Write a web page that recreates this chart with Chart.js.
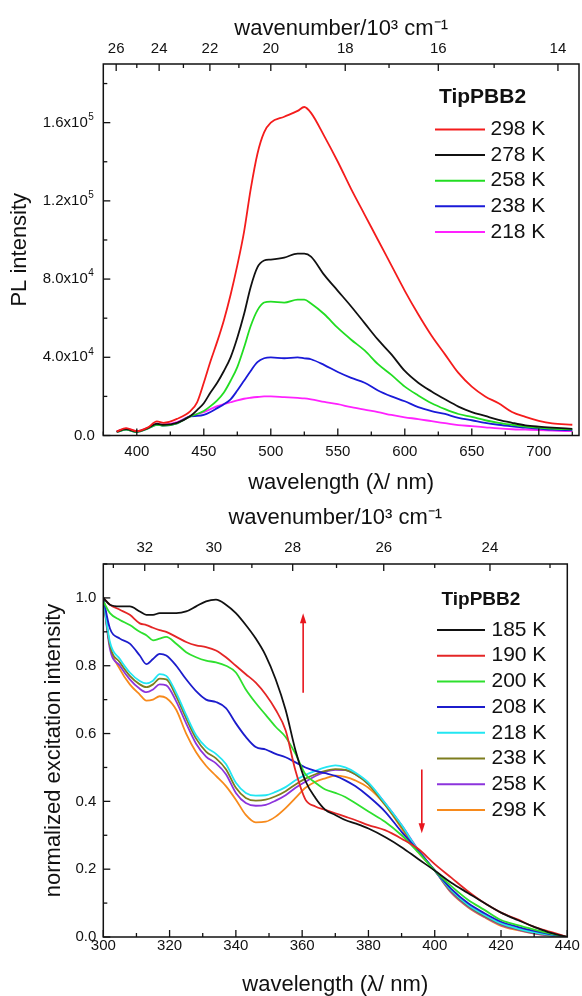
<!DOCTYPE html>
<html>
<head>
<meta charset="utf-8">
<script src="https://cdn.jsdelivr.net/npm/chart.js@4.4.0/dist/chart.umd.min.js"></script>
<style>
  html, body { margin: 0; padding: 0; background: #fff; }
  #wrap { position: relative; width: 582px; height: 996px; }
  #plChart { position: absolute; left: 0; top: 0; }
  #excChart { position: absolute; left: 0; top: 500px; }
</style>
</head>
<body>
<div id="wrap">
  <canvas id="plChart" width="582" height="500"></canvas>
  <canvas id="excChart" width="582" height="496"></canvas>
</div>
<script>
// ---- PL spectra (top) ----
const plWavelength = [385, 392, 400, 408, 415, 420, 430, 440, 445, 450, 455, 460, 465, 470, 475, 480, 485, 490, 495, 500,
  510, 520, 525, 530, 540, 550, 560, 570, 580, 590, 600, 610, 620, 630, 640, 650, 660, 670, 680, 690, 700, 710, 725];
const pl298K = [2000, 3800, 2200, 4000, 7200, 6500, 8500, 12500, 17000, 27000, 38000, 48000, 59000, 72000, 87000, 104000, 126000, 144000, 155000, 160000,
  163000, 166000, 168000, 165000, 153000, 140000, 126000, 113000, 100000, 87000, 74000, 62000, 51000, 41500, 32000, 25000, 20000, 16500, 12000, 9500, 7500, 6200, 5500];
const pl278K = [2000, 3300, 2000, 3800, 6000, 5500, 6500, 10000, 13000, 16500, 22000, 27000, 33000, 40000, 50000, 62000, 76000, 86000, 89500, 90000,
  91000, 93000, 93000, 91500, 82000, 74000, 66000, 57500, 49000, 41500, 33000, 27000, 22500, 18500, 14800, 12000, 10000, 8000, 6500, 5200, 4500, 4000, 3400];
const pl258K = [1800, 3000, 1800, 3500, 5500, 5000, 6200, 9800, 11000, 12500, 15000, 18000, 22000, 28000, 35000, 45000, 56000, 64000, 68000, 68500,
  68000, 69500, 69500, 67500, 62000, 55000, 49000, 43500, 36500, 31000, 25000, 20500, 16500, 13500, 11000, 9500, 7800, 6500, 5500, 4600, 4000, 3500, 3100];
const pl238K = [1800, 3000, 1800, 3500, 5500, 5000, 6200, 9800, 10000, 10500, 12000, 14000, 16000, 18500, 23000, 28000, 33000, 37500, 39500, 40000,
  39500, 40000, 39500, 39000, 36000, 32500, 29500, 27000, 23000, 20000, 17500, 14500, 12500, 11000, 9000, 7800, 6500, 5500, 4700, 4000, 3500, 3000, 2700];
const pl218K = [2000, 3500, 2200, 3800, 6000, 5500, 6800, 10000, 11000, 12000, 13500, 15000, 16000, 17000, 18000, 18800, 19300, 19700, 20000, 20000,
  19600, 19200, 19000, 18500, 17200, 16000, 14500, 13200, 12000, 10500, 9300, 8400, 7300, 6300, 5300, 4800, 4200, 3600, 3200, 3000, 2800, 2500, 2200];
const plLabels = ['298 K', '278 K', '258 K', '238 K', '218 K'];
const plColors = ['#f41c1c', '#111111', '#22dd22', '#1a1ad8', '#ff22ff'];
const plTicksNm = [400, 450, 500, 550, 600, 650, 700];
const plMinorNm = [375, 425, 475, 525, 575, 625, 675, 725];
const plTicksWn = [26, 24, 22, 20, 18, 16, 14];
const plMinorWn = [25, 23, 21, 19, 17, 15];
const plTicksY = [0, 40000, 80000, 120000, 160000];
const plMinorY = [20000, 60000, 100000, 140000, 180000];

// ---- excitation spectra (bottom) ----
const excWavelength = [300, 302, 305, 308, 311, 313, 315, 317, 319, 322, 325, 328, 331, 334, 337, 340, 343, 346, 349, 352,
  355, 358, 361, 364, 367, 370, 373, 376, 380, 385, 390, 395, 400, 405, 410, 415, 420, 425, 430, 435, 440];
const exc185K = [1.0, 0.98, 0.975, 0.975, 0.96, 0.95, 0.95, 0.955, 0.955, 0.955, 0.96, 0.975, 0.99, 0.995, 0.98, 0.955, 0.92, 0.88, 0.83, 0.76,
  0.67, 0.55, 0.46, 0.41, 0.375, 0.36, 0.345, 0.335, 0.32, 0.295, 0.265, 0.23, 0.196, 0.16, 0.13, 0.1, 0.072, 0.05, 0.03, 0.012, 0.0];
const exc190K = [1.0, 0.98, 0.965, 0.95, 0.925, 0.92, 0.912, 0.905, 0.9, 0.885, 0.87, 0.86, 0.855, 0.845, 0.825, 0.8, 0.775, 0.75, 0.715, 0.67,
  0.61, 0.49, 0.405, 0.385, 0.375, 0.365, 0.355, 0.345, 0.33, 0.315, 0.29, 0.26, 0.215, 0.175, 0.135, 0.1, 0.072, 0.052, 0.03, 0.015, 0.0];
const exc200K = [0.99, 0.955, 0.935, 0.92, 0.9, 0.89, 0.875, 0.88, 0.885, 0.865, 0.84, 0.825, 0.815, 0.81, 0.8, 0.78, 0.73, 0.69, 0.655, 0.62,
  0.59, 0.54, 0.48, 0.455, 0.435, 0.425, 0.413, 0.395, 0.37, 0.34, 0.3, 0.25, 0.196, 0.15, 0.11, 0.08, 0.05, 0.035, 0.022, 0.01, 0.0];
const exc208K = [1.0, 0.91, 0.88, 0.865, 0.83, 0.805, 0.82, 0.835, 0.83, 0.8, 0.76, 0.725, 0.7, 0.693, 0.675, 0.63, 0.59, 0.56, 0.553, 0.54,
  0.53, 0.515, 0.5, 0.49, 0.483, 0.475, 0.462, 0.445, 0.415, 0.37, 0.31, 0.255, 0.196, 0.142, 0.1, 0.07, 0.045, 0.03, 0.018, 0.008, 0.0];
const exc218K = [1.0, 0.87, 0.82, 0.78, 0.755, 0.748, 0.756, 0.775, 0.77, 0.72, 0.655, 0.595, 0.56, 0.54, 0.51, 0.455, 0.425, 0.417, 0.418, 0.428,
  0.442, 0.462, 0.478, 0.49, 0.5, 0.506, 0.5, 0.485, 0.455, 0.395, 0.33, 0.255, 0.196, 0.138, 0.095, 0.065, 0.04, 0.025, 0.014, 0.006, 0.0];
const exc238K = [1.0, 0.86, 0.81, 0.77, 0.745, 0.737, 0.745, 0.762, 0.76, 0.71, 0.645, 0.585, 0.547, 0.527, 0.495, 0.44, 0.41, 0.402, 0.405, 0.415,
  0.43, 0.45, 0.467, 0.48, 0.49, 0.495, 0.493, 0.48, 0.45, 0.39, 0.325, 0.255, 0.196, 0.135, 0.092, 0.062, 0.038, 0.023, 0.012, 0.005, 0.0];
const exc258K = [1.0, 0.85, 0.8, 0.76, 0.732, 0.722, 0.73, 0.745, 0.742, 0.695, 0.63, 0.57, 0.532, 0.512, 0.48, 0.425, 0.395, 0.387, 0.39, 0.402,
  0.418, 0.44, 0.458, 0.475, 0.487, 0.493, 0.492, 0.48, 0.452, 0.395, 0.33, 0.258, 0.196, 0.132, 0.09, 0.06, 0.036, 0.022, 0.011, 0.004, 0.0];
const exc298K = [1.0, 0.86, 0.79, 0.745, 0.715, 0.697, 0.7, 0.71, 0.705, 0.67, 0.6, 0.545, 0.505, 0.475, 0.445, 0.405, 0.36, 0.338, 0.34, 0.355,
  0.38, 0.41, 0.44, 0.458, 0.468, 0.476, 0.472, 0.462, 0.44, 0.39, 0.32, 0.25, 0.196, 0.13, 0.088, 0.058, 0.033, 0.02, 0.01, 0.004, 0.0];
const excLabels = ['185 K', '190 K', '200 K', '208 K', '218 K', '238 K', '258 K', '298 K'];
const excColors = ['#111111', '#e42626', '#2ee02e', '#1c1ccc', '#22e6f2', '#7d7d1e', '#8c34dc', '#f78a1c'];
const excTicksNm = [300, 320, 340, 360, 380, 400, 420, 440];
const excMinorNm = [310, 330, 350, 370, 390, 410, 430];
const excTicksWn = [32, 30, 28, 26, 24];
const excMinorWn = [33, 31, 29, 27, 25, 23];
const excTicksY = [0, 0.2, 0.4, 0.6, 0.8, 1.0];
const excMinorY = [0.1, 0.3, 0.5, 0.7, 0.9, 1.1];
// arrows: wavelength, start and end of normalized intensity
const excArrows = [[360.3, 0.72, 0.955], [396.1, 0.494, 0.306]];

const FONT = '"Liberation Sans", Arial, Helvetica, sans-serif';
const INK = '#111';
Chart.defaults.font.family = FONT;
Chart.defaults.color = INK;

const nmFromWn = w => 1e4 / w;   // wavenumber in 10^3 cm-1 -> nm

function series(xs, ys) {
  return xs.map((x, i) => ({ x: x, y: ys[i] }));
}

// box frame + inward major/minor ticks
const frameTicks = {
  id: 'frameTicks',
  afterDraw(chart, args, opts) {
    const ctx = chart.ctx, a = chart.chartArea;
    ctx.save();
    ctx.strokeStyle = INK;
    ctx.lineWidth = 1.5;
    ctx.strokeRect(a.left, a.top, a.right - a.left, a.bottom - a.top);
    ctx.lineWidth = 1.3;
    opts.axes.forEach(ax => {
      const s = chart.scales[ax.id];
      const draw = (vals, len) => vals.forEach(v => {
        const p = s.getPixelForValue(v);
        ctx.beginPath();
        if (s.isHorizontal()) {
          const y = s.position === 'top' ? a.top : a.bottom;
          ctx.moveTo(p, y);
          ctx.lineTo(p, s.position === 'top' ? y + len : y - len);
        } else {
          ctx.moveTo(a.left, p);
          ctx.lineTo(a.left + len, p);
        }
        ctx.stroke();
      });
      draw(s.ticks.map(t => t.value), 7);
      draw(ax.minor, 4);
    });
    ctx.restore();
  }
};

// y labels written as 1.6x10^5 with a raised exponent
const sciTicks = {
  id: 'sciTicks',
  afterDraw(chart, args, o) {
    if (!o.enabled) return;
    const ctx = chart.ctx, s = chart.scales.y;
    const right = chart.chartArea.left - o.gap;
    ctx.save();
    ctx.fillStyle = INK;
    ctx.textBaseline = 'middle';
    s.ticks.forEach(t => {
      const y = s.getPixelForValue(t.value);
      ctx.font = '15px ' + FONT;
      ctx.textAlign = 'right';
      if (t.value === 0) {
        ctx.fillText('0.0', right, y);
        return;
      }
      const e = Math.floor(Math.log10(t.value) + 1e-9);
      const m = (t.value / Math.pow(10, e)).toFixed(1);
      ctx.fillText(m + 'x10', right - 7, y);
      ctx.font = '10px ' + FONT;
      ctx.textAlign = 'left';
      ctx.fillText(String(e), right - 6.5, y - 5.5);
    });
    ctx.restore();
  }
};

const boxLegend = {
  id: 'boxLegend',
  afterDraw(chart, args, o) {
    const ctx = chart.ctx;
    ctx.save();
    ctx.textBaseline = 'middle';
    ctx.textAlign = 'left';
    ctx.fillStyle = INK;
    ctx.font = 'bold ' + o.titleSize + 'px ' + FONT;
    ctx.fillText(o.title, o.titleX, o.titleY);
    ctx.font = o.size + 'px ' + FONT;
    chart.data.datasets.forEach((ds, i) => {
      const y = o.rowY + i * o.rowGap;
      ctx.strokeStyle = ds.borderColor;
      ctx.lineWidth = 2;
      ctx.beginPath();
      ctx.moveTo(o.lineX0, y);
      ctx.lineTo(o.lineX1, y);
      ctx.stroke();
      ctx.fillText(ds.label, o.textX, y);
    });
    ctx.restore();
  }
};

const arrowMarks = {
  id: 'arrowMarks',
  afterDatasetsDraw(chart, args, o) {
    if (!o.list) return;
    const ctx = chart.ctx, xs = chart.scales.x, ys = chart.scales.y;
    ctx.save();
    ctx.strokeStyle = o.color;
    ctx.fillStyle = o.color;
    ctx.lineWidth = 1.6;
    o.list.forEach(([x, from, to]) => {
      const px = xs.getPixelForValue(x);
      const y0 = ys.getPixelForValue(from), y1 = ys.getPixelForValue(to);
      const dir = y1 < y0 ? 1 : -1;
      ctx.beginPath();
      ctx.moveTo(px, y0);
      ctx.lineTo(px, y1 + dir * 8);
      ctx.stroke();
      ctx.beginPath();
      ctx.moveTo(px, y1);
      ctx.lineTo(px - 3.2, y1 + dir * 10);
      ctx.lineTo(px + 3.2, y1 + dir * 10);
      ctx.closePath();
      ctx.fill();
    });
    ctx.restore();
  }
};

function lineSets(xs, ys, labels, colors) {
  return ys.map((arr, i) => ({
    label: labels[i],
    data: series(xs, arr),
    borderColor: colors[i],
    backgroundColor: colors[i],
    borderWidth: 1.8,
    pointRadius: 0,
    cubicInterpolationMode: 'monotone',
    fill: false
  }));
}

function noPad(s) { s.paddingLeft = 0; s.paddingRight = 0; s.paddingTop = 0; s.paddingBottom = 0; }

function buildScales(cfg) {
  const tickFont = { size: 15, lineHeight: 1.2 };
  const titleFont = { size: 22, lineHeight: 1 };
  const noGrid = { display: false, drawTicks: false };
  return {
    x: {
      type: 'linear', position: 'bottom', min: cfg.xMin, max: cfg.xMax,
      afterBuildTicks: s => { s.ticks = cfg.nmTicks.map(v => ({ value: v })); },
      afterFit: s => { s.height = cfg.bottomH; noPad(s); },
      grid: noGrid, border: { display: false },
      ticks: { font: tickFont, padding: cfg.xPad, color: INK, maxRotation: 0, autoSkip: false },
      title: { display: true, text: 'wavelength (λ/ nm)', font: titleFont, color: INK, padding: { top: 0, bottom: cfg.xTitlePad } }
    },
    xTop: {
      type: 'linear', position: 'top', min: cfg.xMin, max: cfg.xMax,
      afterBuildTicks: s => { s.ticks = cfg.wnTicks.map(w => ({ value: nmFromWn(w) })); },
      afterFit: s => { s.height = cfg.topH; noPad(s); },
      grid: noGrid, border: { display: false },
      ticks: { font: tickFont, padding: cfg.topPad, color: INK, maxRotation: 0, autoSkip: false,
        callback: v => String(Math.round(1e4 / v)) },
      title: { display: true, text: 'wavenumber/10³ cm⁻¹', font: titleFont, color: INK, padding: { top: cfg.topTitlePad, bottom: 0 } }
    },
    y: {
      type: 'linear', position: 'left', min: 0, max: cfg.yMax,
      afterBuildTicks: s => { s.ticks = cfg.yTicks.map(v => ({ value: v })); },
      afterFit: s => { s.width = 103.3; noPad(s); },
      grid: noGrid, border: { display: false },
      ticks: { display: cfg.yLabels, font: tickFont, padding: cfg.yPad, color: INK, autoSkip: false,
        callback: v => v.toFixed(1) },
      title: { display: true, text: cfg.yTitle, font: titleFont, color: INK, padding: { top: cfg.yTitlePad, bottom: 0 } }
    }
  };
}

new Chart(document.getElementById('plChart'), {
  type: 'line',
  data: { datasets: lineSets(plWavelength, [pl298K, pl278K, pl258K, pl238K, pl218K], plLabels, plColors) },
  options: {
    responsive: false, animation: false, devicePixelRatio: 1,
    layout: { padding: { left: 0, right: 3, top: 0, bottom: 0 } },
    scales: buildScales({
      xMin: 375, xMax: 730, yMax: 190000,
      nmTicks: plTicksNm, wnTicks: plTicksWn, yTicks: plTicksY,
      bottomH: 64.5, topH: 64, xPad: 7.5, topPad: 6, xTitlePad: 6, topTitlePad: 18,
      yLabels: false, yPad: 8, yTitle: 'PL intensity', yTitlePad: 9
    }),
    plugins: {
      legend: { display: false }, tooltip: { enabled: false },
      frameTicks: { axes: [
        { id: 'x', minor: plMinorNm },
        { id: 'xTop', minor: plMinorWn.map(nmFromWn) },
        { id: 'y', minor: plMinorY }
      ] },
      sciTicks: { enabled: true, gap: 8.5 },
      boxLegend: { title: 'TipPBB2', titleSize: 21, titleX: 439, titleY: 97.5, size: 21,
        rowY: 129.5, rowGap: 25.6, lineX0: 435, lineX1: 485, textX: 490.5 }
    }
  },
  plugins: [frameTicks, sciTicks, boxLegend]
});

new Chart(document.getElementById('excChart'), {
  type: 'line',
  data: { datasets: lineSets(excWavelength, [exc185K, exc190K, exc200K, exc208K, exc218K, exc238K, exc258K, exc298K], excLabels, excColors) },
  options: {
    responsive: false, animation: false, devicePixelRatio: 1,
    layout: { padding: { left: 0, right: 14.7, top: 0, bottom: 0 } },
    scales: buildScales({
      xMin: 300, xMax: 440, yMax: 1.1,
      nmTicks: excTicksNm, wnTicks: excTicksWn, yTicks: excTicksY,
      bottomH: 59, topH: 64, xPad: 0, topPad: 7, xTitlePad: 0, topTitlePad: 7,
      yLabels: true, yPad: 7, yTitle: 'normalized excitation intensity', yTitlePad: 43
    }),
    plugins: {
      legend: { display: false }, tooltip: { enabled: false },
      frameTicks: { axes: [
        { id: 'x', minor: excMinorNm },
        { id: 'xTop', minor: excMinorWn.map(nmFromWn) },
        { id: 'y', minor: excMinorY }
      ] },
      arrowMarks: { list: excArrows, color: '#e8161e' },
      boxLegend: { title: 'TipPBB2', titleSize: 19, titleX: 441.5, titleY: 100, size: 21,
        rowY: 130, rowGap: 25.7, lineX0: 437, lineX1: 485, textX: 491.5 }
    }
  },
  plugins: [frameTicks, boxLegend, arrowMarks]
});
</script>
</body>
</html>
